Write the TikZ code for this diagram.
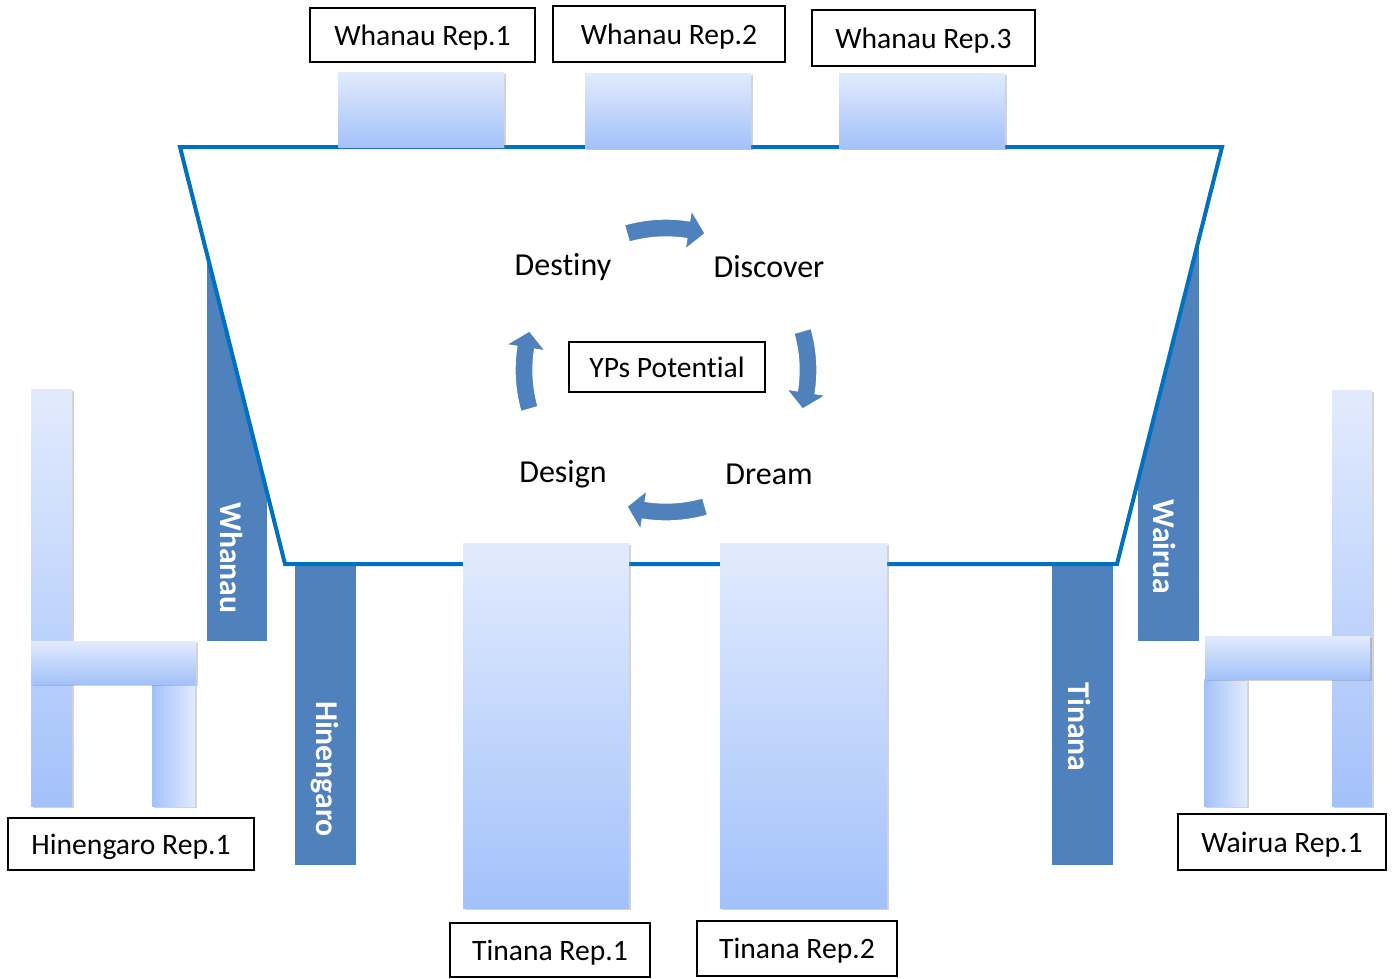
\documentclass[tikz,border=0pt]{standalone}
\usepackage{fontspec}
\setmainfont{Carlito}[Ligatures=NoCommon]
\usetikzlibrary{shadows}
\definecolor{tblue}{HTML}{0070C0}
\definecolor{bblue}{HTML}{4F81BD}
\definecolor{slight}{HTML}{E2EBFD}
\definecolor{sdark}{HTML}{A3C1FA}
\def\px{0.75pt}
\newcommand\cycarrow[1]{%
  \filldraw[fill=bblue, draw=white, line width=1pt]
    plot[domain=#1-16:#1+9, samples=24] ({151*cos(\x)},{151*sin(\x)})
    -- ({162*cos(#1+9)},{162*sin(#1+9)})
    -- ({142*cos(#1+16)},{142*sin(#1+16)})
    -- ({122*cos(#1+9)},{122*sin(#1+9)})
    -- plot[domain=#1+9:#1-16, samples=24] ({133*cos(\x)},{133*sin(\x)})
    -- cycle;}
\begin{document}
\begin{tikzpicture}[x=0.75pt,y=-0.75pt,
  lbl/.style={draw=black, line width=1.3pt, fill=white, inner sep=0pt,
    text depth=0pt, font=\fontsize{22.2}{26}\selectfont},
  shd/.style={drop shadow={shadow xshift=1.2pt, shadow yshift=-1.5pt, opacity=0.35, fill=black!50}},
  seatv/.style={top color=slight, bottom color=sdark, shd},
  seath/.style={left color=sdark, right color=slight, shd},
  bar/.style={fill=bblue},
  barlbl/.style={text=white, font=\bfseries\fontsize{23.8}{28}\selectfont, rotate=-90, inner sep=0pt},
  cyc/.style={font=\fontsize{24}{28}\selectfont, inner sep=0pt},
  tbl/.style={fill=white, draw=tblue, line width=3pt}
]
\useasboundingbox (0,0) rectangle (1392,978);

% side bars
\fill[bar] (207,230) rectangle (267,641);
\fill[bar] (1138,230) rectangle (1199,641);
\fill[bar] (295,560) rectangle (356,865);
\fill[bar] (1052,560) rectangle (1113,865);

% table
\filldraw[tbl] (180,147) -- (1222,147) -- (1117,564) -- (285,564) -- cycle;

% bar labels
\node[barlbl] (lwh) at (232,558) {Whanau};
\node[barlbl] (lhi) at (325,769) {Hinengaro};
\node[barlbl] (lti) at (1080,727) {Tinana};
\node[barlbl] (lwa) at (1165,547) {Wairua};

% top seats
\path[seatv] (338,72) rectangle (504,147);
\path[seatv] (585,73) rectangle (751,148);
\path[seatv] (839,73) rectangle (1005,148);

% bottom seats
\path[seatv] (463,543) rectangle (629,908);
\path[seatv] (720,543) rectangle (887,908);

% left chair
\path[seatv] (31,389) rectangle (72,806);
\path[seath] (152,684) rectangle (195,806);
\path[seatv] (31,641) rectangle (196,684);

% right chair
\path[seatv] (1332,390) rectangle (1372,806);
\path[seath] (1204,679) rectangle (1247,806);
\path[seatv] (1205,636) rectangle (1370,679);

% label boxes
\node[lbl, minimum width=225*\px, minimum height=54*\px] (wr1) at (422.5,35) {Whanau Rep.1};
\node[lbl, minimum width=232*\px, minimum height=56*\px] (wr2) at (669,34) {Whanau Rep.2};
\node[lbl, minimum width=223*\px, minimum height=56*\px] (wr3) at (923.5,38) {Whanau Rep.3};
\node[lbl, minimum width=200*\px, minimum height=54*\px] (tr1) at (550,950) {Tinana Rep.1};
\node[lbl, minimum width=200*\px, minimum height=55*\px] (tr2) at (797,948.5) {Tinana Rep.2};
\node[lbl, minimum width=246*\px, minimum height=52*\px] (hr1) at (131,844) {Hinengaro Rep.1};
\node[lbl, minimum width=208*\px, minimum height=56*\px] (war1) at (1282,842) {Wairua Rep.1};

% centre
\node[lbl, line width=1pt, minimum width=196*\px, minimum height=50*\px] (yp) at (667,367) {YPs Potential};
\node[cyc] (destiny) at (563,267) {Destiny};
\node[cyc] (discover) at (769,267) {Discover};
\node[cyc] (design) at (563,474) {Design};
\node[cyc] (dream) at (769,474) {Dream};

\begin{scope}[shift={(666,370)}]
  \cycarrow{-90}
  \cycarrow{0}
  \cycarrow{90}
  \cycarrow{180}
\end{scope}
\end{tikzpicture}
\end{document}
